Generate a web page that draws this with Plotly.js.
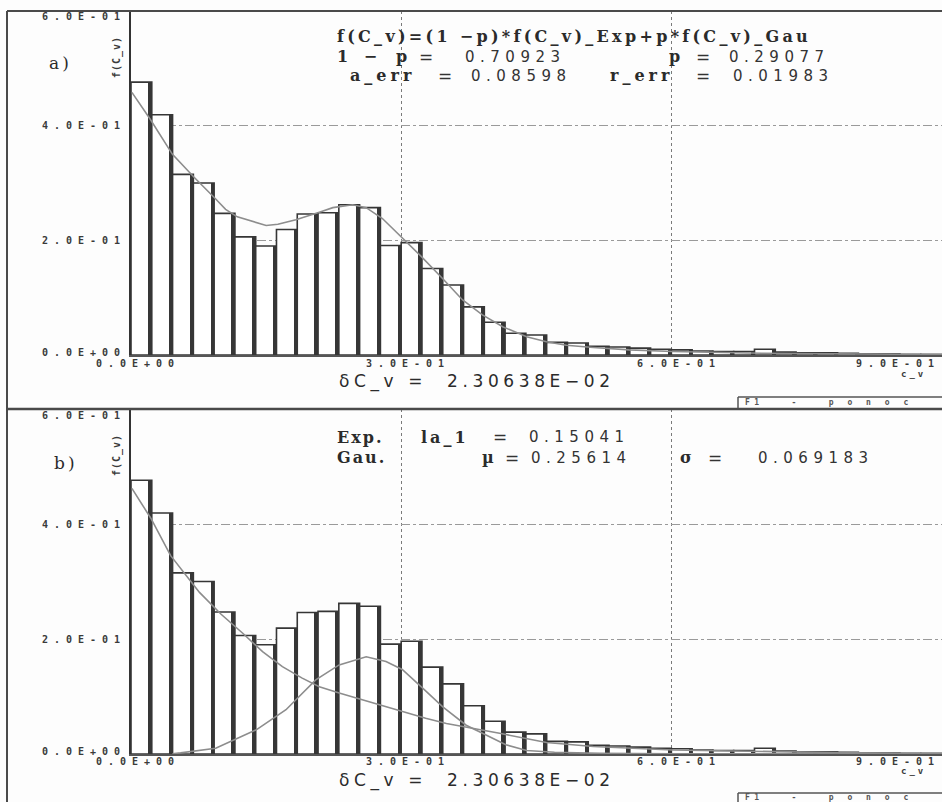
<!DOCTYPE html>
<html>
<head>
<meta charset="utf-8">
<script src="https://cdn.plot.ly/plotly-3.0.1.min.js"></script>
<style>
  html, body { margin: 0; padding: 0; background: #fdfdfd; }
  #plot { width: 942px; height: 802px; }
</style>
</head>
<body>
<div id="plot"></div>
<script>
// ---------------- data ----------------
const binWidth = 0.0230638;
const histHeights = [0.476, 0.419, 0.315, 0.300, 0.247, 0.206, 0.190, 0.219, 0.246, 0.248,
  0.262, 0.257, 0.191, 0.196, 0.151, 0.122, 0.084, 0.057, 0.038, 0.035,
  0.022, 0.021, 0.015, 0.014, 0.012, 0.010, 0.009, 0.007, 0.006, 0.006,
  0.010, 0.005, 0.004, 0.004, 0.003, 0.002, 0.002, 0.001, 0.001];

const mixX = [0.001, 0.021, 0.046, 0.070, 0.094, 0.105, 0.118, 0.139, 0.150, 0.163, 0.183, 0.209,
  0.224, 0.246, 0.261, 0.279, 0.300, 0.322, 0.346, 0.368, 0.390, 0.413, 0.439, 0.461, 0.483,
  0.513, 0.553, 0.601, 0.700, 0.800, 0.900];
const mixY = [0.458, 0.412, 0.350, 0.310, 0.272, 0.254, 0.241, 0.231, 0.226, 0.228, 0.236, 0.249,
  0.257, 0.262, 0.257, 0.238, 0.206, 0.172, 0.133, 0.096, 0.070, 0.049, 0.032, 0.023, 0.017,
  0.013, 0.009, 0.006, 0.003, 0.0015, 0.0008];

const expX = [0.001, 0.022, 0.044, 0.076, 0.100, 0.124, 0.146, 0.168, 0.190, 0.209, 0.231, 0.257,
  0.283, 0.305, 0.327, 0.350, 0.372, 0.409, 0.461, 0.513, 0.601, 0.700, 0.800, 0.900];
const expY = [0.462, 0.410, 0.345, 0.281, 0.243, 0.210, 0.178, 0.152, 0.132, 0.117, 0.106, 0.094,
  0.082, 0.071, 0.062, 0.053, 0.047, 0.036, 0.020, 0.013, 0.007, 0.004, 0.002, 0.001];

const gauX = [0.046, 0.055, 0.094, 0.139, 0.172, 0.205, 0.231, 0.261, 0.283, 0.301, 0.324, 0.346,
  0.372, 0.398, 0.416, 0.439, 0.470, 0.520, 0.600, 0.900];
const gauY = [0.0005, 0.002, 0.010, 0.042, 0.077, 0.129, 0.155, 0.169, 0.161, 0.147, 0.114, 0.082,
  0.050, 0.030, 0.016, 0.006, 0.003, 0.001, 0.0003, 0.0];

const yTickVals = [0, 0.2, 0.4, 0.6];
const yTickText = ['0.0E+00', '2.0E-01', '4.0E-01', '6.0E-01'];
const xTickVals = [0, 0.3, 0.6, 0.9];
const xTickText = ['0.0E+00', '3.0E-01', '6.0E-01', '9.0E-01'];

const txtFormula = 'f(C_v)=(1 −p)*f(C_v)_Exp+p*f(C_v)_Gau';
const fitOneMinusP = ['1 −', 'p', '0.70923'];
const fitP = ['p', '0.29077'];
const fitAErr = ['a_err', '0.08598'];
const fitRErr = ['r_err', '0.01983'];
const compExp = ['Exp.', 'la_1', '0.15041'];
const compGau = ['Gau.', 'µ', '0.25614'];
const compSigma = ['σ', '0.069183'];
const txtEq = '=';
const txtDelta = 'δC_v\u00a0=\u00a0\u00a02.30638E−02';
const txtYLabel = 'f(C_v)';
const txtXLabel = 'c_v';
const txtHelp = 'F1\u00a0\u00a0\u00a0-\u00a0\u00a0\u00a0p\u00a0o\u00a0n\u00a0o\u00a0c';

// ---------------- helpers ----------------
const W = 942, H = 802;
const X = px => px / W;
const Y = py => 1 - py / H;
const SERIF = 'DejaVu Serif';
const SANS = 'DejaVu Sans';
const MONO = 'DejaVu Sans Mono';
const INK = '#2b2b2b';
const BAR_INK = '#363636';
const CURVE = '#8d8d8d';

const centers = histHeights.map((_, i) => (i + 0.5) * binWidth);
const edgeW = 0.0040;
const edges = histHeights.map((_, i) => (i + 1) * binWidth - edgeW / 2);

function sp(text, ls) {
  return '<span style="letter-spacing:' + ls + 'px">' + text + '</span>';
}
function ann(text, xpx, ypx, o) {
  o = o || {};
  return Object.assign({
    text: text, xref: 'paper', yref: 'paper', x: X(xpx), y: Y(ypx),
    xanchor: 'left', yanchor: 'middle', showarrow: false,
    font: { family: SERIF, size: 15, color: INK }
  }, o);
}
const fBold = { family: SERIF, size: 16, color: INK, weight: 'bold' };
const fNum = { family: SANS, size: 15, color: '#333' };
const fEq = { family: SANS, size: 17, color: '#333' };
const fTick = { family: MONO, size: 10, color: '#3a3a3a', weight: 'bold' };

// ---------------- traces ----------------
function histTraces(xa, ya) {
  return [
    { type: 'bar', x: centers, y: histHeights, width: binWidth, xaxis: xa, yaxis: ya,
      marker: { color: 'rgba(255,255,255,1)', line: { color: BAR_INK, width: 1.6 } },
      hoverinfo: 'skip', showlegend: false },
    { type: 'bar', x: edges, y: histHeights, width: edgeW, xaxis: xa, yaxis: ya,
      marker: { color: BAR_INK, line: { width: 0 } }, hoverinfo: 'skip', showlegend: false }
  ];
}
function curve(xs, ys, xa, ya) {
  return { type: 'scatter', mode: 'lines', x: xs, y: ys, xaxis: xa, yaxis: ya,
    line: { color: CURVE, width: 1.6 }, hoverinfo: 'skip', showlegend: false };
}

const data = [].concat(
  histTraces('x', 'y'),
  [curve(mixX, mixY, 'x', 'y')],
  histTraces('x2', 'y2'),
  [curve(expX, expY, 'x2', 'y2'), curve(gauX, gauY, 'x2', 'y2')]
);

// ---------------- axes ----------------
const xDomain = [131 / W, 1];
const topY = [Y(355), Y(11)];
const botY = [Y(754), Y(409)];
function xAxis(anchor) {
  return { domain: xDomain, range: [0, 0.9], anchor: anchor, tickvals: xTickVals.slice(0, 3),
    showticklabels: false, ticks: '', showgrid: true, gridcolor: '#7a7a7a', griddash: 'dot',
    gridwidth: 1, showline: true, linecolor: '#555', linewidth: 1.5, zeroline: false, fixedrange: true };
}
function yAxis(domain, anchor) {
  return { domain: domain, range: [0, 0.6], anchor: anchor, tickvals: yTickVals,
    showticklabels: false, ticks: '', showgrid: true, gridcolor: '#9a9a9a', griddash: 'dashdot',
    gridwidth: 1, showline: true, linecolor: '#333', linewidth: 2, zeroline: false, fixedrange: true };
}

// ---------------- annotations ----------------
const annotations = [];
function tickLabels(yref, baseY) {
  yTickVals.forEach((v, i) => {
    annotations.push({ text: sp(yTickText[i], 6), xref: 'paper', yref: yref, x: X(128), y: v,
      xanchor: 'right', yanchor: 'middle', showarrow: false, yshift: i === 3 ? -6 : (i === 0 ? 3 : 0),
      font: fTick });
  });
  xTickVals.forEach((v, i) => {
    annotations.push({ text: sp(xTickText[i], 6), xref: yref === 'y' ? 'x' : 'x2', yref: 'paper',
      x: v, y: Y(baseY), xanchor: i === 3 ? 'right' : 'center', yanchor: 'middle', showarrow: false,
      xshift: i === 3 ? 0 : 7, font: fTick });
  });
}
tickLabels('y', 364);
tickLabels('y2', 761);

// axis names
[[57, 374], [455, 771]].forEach(([yl, xl]) => {
  annotations.push(ann(sp(txtYLabel, 1), 117, yl, { xanchor: 'center', textangle: -90, font: fTick }));
  annotations.push(ann(sp(txtXLabel, 3), 899, xl,
    { font: { family: MONO, size: 9, color: '#3a3a3a', weight: 'bold' } }));
});
// delta lines
const fDelta = { family: SANS, size: 17, color: INK };
annotations.push(ann(sp(txtDelta, 4.6), 337, 381, { font: fDelta }));
annotations.push(ann(sp(txtDelta, 4.6), 337, 780, { font: fDelta }));
// help boxes
const fHelp = { family: MONO, size: 8, color: '#555', weight: 'bold' };
annotations.push(ann(sp(txtHelp, 4.5), 743, 402, { font: fHelp }));
annotations.push(ann(sp(txtHelp, 4.5), 743, 797, { font: fHelp }));
// panel letters
annotations.push(ann(sp('a)', 3), 47, 63, { font: { family: SERIF, size: 17, color: INK } }));
annotations.push(ann(sp('b)', 3), 52, 463, { font: { family: SERIF, size: 17, color: INK } }));

function eqPart(ex, y) { annotations.push(ann(txtEq, ex, y, { font: fEq })); }
function numPart(val, nx, y) {
  annotations.push(ann(sp(val, 5.5), nx + 5, y, { xanchor: 'right', font: fNum }));
}
// top panel fit text
annotations.push(ann(sp(txtFormula, 3.3), 335, 37, { font: fBold }));
annotations.push(ann(sp(fitOneMinusP[0], 5), 335, 57, { font: fBold }));
annotations.push(ann(fitOneMinusP[1], 394, 57, { font: fBold }));
eqPart(417, 57); numPart(fitOneMinusP[2], 563, 57);
annotations.push(ann(fitP[0], 667, 57, { font: fBold }));
eqPart(694, 57); numPart(fitP[1], 827, 57);
annotations.push(ann(sp(fitAErr[0], 4), 348, 76, { font: fBold }));
eqPart(436, 76); numPart(fitAErr[1], 569, 76);
annotations.push(ann(sp(fitRErr[0], 4), 608, 76, { font: fBold }));
eqPart(694, 76); numPart(fitRErr[1], 831, 76);
// bottom panel text
annotations.push(ann(sp(compExp[0], 2), 335, 437, { font: fBold }));
annotations.push(ann(sp(compExp[1], 3), 419, 437, { font: fBold }));
eqPart(491, 437); numPart(compExp[2], 627, 437);
annotations.push(ann(sp(compGau[0], 2), 335, 458, { font: fBold }));
annotations.push(ann(compGau[1], 480, 458, { font: fBold }));
eqPart(503, 458); numPart(compGau[2], 629, 458);
annotations.push(ann(compSigma[0], 678, 458, { font: fBold }));
eqPart(706, 458); numPart(compSigma[1], 871, 458);

// ---------------- frame shapes ----------------
function line(x0, y0, x1, y1, w, c) {
  return { type: 'line', xref: 'paper', yref: 'paper', x0: X(x0), y0: Y(y0), x1: X(x1), y1: Y(y1),
    line: { color: c || '#4a4a4a', width: w || 2 }, layer: 'above' };
}
const shapes = [
  line(7, 11, 942, 11, 2),
  line(7, 11, 7, 802, 2),
  line(7, 409, 942, 409, 2.5),
  line(738, 397, 942, 397, 1.5, '#555'),
  line(738, 397, 738, 408, 1.5, '#555'),
  line(738, 793, 942, 793, 1.5, '#555'),
  line(738, 793, 738, 802, 1.5, '#555')
];

const layout = {
  width: W, height: H,
  margin: { l: 0, r: 0, t: 0, b: 0, pad: 0 },
  paper_bgcolor: '#fdfdfd', plot_bgcolor: '#fdfdfd',
  barmode: 'overlay', bargap: 0,
  showlegend: false,
  xaxis: xAxis('y'), yaxis: yAxis(topY, 'x'),
  xaxis2: xAxis('y2'), yaxis2: yAxis(botY, 'x2'),
  annotations: annotations,
  shapes: shapes
};

Plotly.newPlot('plot', data, layout, { displayModeBar: false, staticPlot: true });
</script>
</body>
</html>
